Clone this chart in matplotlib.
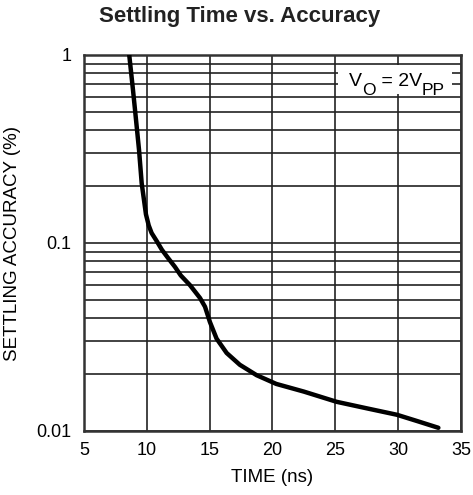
import matplotlib
matplotlib.use("Agg")
import matplotlib.pyplot as plt
from matplotlib.ticker import FixedLocator, NullFormatter
from matplotlib.patches import Rectangle

plt.rcParams['font.family'] = ['Liberation Sans', 'DejaVu Sans']

time_ns = [8.6, 8.9, 9.1, 9.38, 9.59, 9.93, 10.15, 10.38, 10.8, 11.2, 11.7, 12.24, 12.7,
           13.43, 14.23, 14.63, 15.02, 15.55, 16.35, 17.4, 18.74, 20.3, 22.5, 25.1, 27.5,
           29.9, 31.5, 33.2]
accuracy = [1.0, 0.65, 0.48, 0.312, 0.208, 0.142, 0.124, 0.113, 0.102, 0.092, 0.083, 0.0746,
            0.0672, 0.0597, 0.051, 0.0458, 0.038, 0.031, 0.026, 0.0225, 0.0198, 0.0178,
            0.0162, 0.0143, 0.0132, 0.0122, 0.0113, 0.0104]

x_ticks = [5, 10, 15, 20, 25, 30, 35]
y_ticks = [0.01, 0.1, 1]
y_ticklabels = ['0.01', '0.1', '1']

fig = plt.figure(figsize=(4.73, 4.95), dpi=100)
ax = fig.add_axes([0.1776, 0.1293, 0.7970, 0.7596])
ax.set_yscale('log')
ax.set_xlim(5, 35)
ax.set_ylim(0.01, 1)

minor = [m * 10.0 ** e for e in (-2, -1) for m in range(2, 10)]
ax.yaxis.set_minor_locator(FixedLocator(minor))
ax.yaxis.set_minor_formatter(NullFormatter())
ax.set_yticks(y_ticks)
ax.set_yticklabels(y_ticklabels)
ax.set_xticks(x_ticks)

ax.grid(True, which='both', color='#222222', linewidth=1.2)
ax.tick_params(which='both', length=0, labelsize=13, colors='black')
ax.tick_params(axis='y', pad=9)
ax.tick_params(axis='x', pad=8)

ax.plot(time_ns, accuracy, color='black', linewidth=3.2, solid_capstyle='round',
        solid_joinstyle='round', zorder=3)

for s in ax.spines.values():
    s.set_linewidth(1.8)
    s.set_color('#333333')

# white label box covering the grid
ax.add_patch(Rectangle((0.674, 0.896), 0.302, 0.077, transform=ax.transAxes,
                       facecolor='white', edgecolor='none', zorder=4))
t1 = ax.text(0.703, 0.9176, 'V', transform=ax.transAxes, fontsize=14,
             ha='left', va='baseline', zorder=5)
t2 = ax.annotate('O', xy=(1, 0), xycoords=t1, xytext=(0, -6), textcoords='offset points',
                 fontsize=12.5, ha='left', va='bottom', zorder=5)
t3 = ax.annotate(' = 2V', xy=(1, 0), xycoords=t2, xytext=(0, 6), textcoords='offset points',
                 fontsize=14, ha='left', va='bottom', zorder=5)
t4 = ax.annotate('PP', xy=(1, 0), xycoords=t3, xytext=(0, -6), textcoords='offset points',
                 fontsize=12.5, ha='left', va='bottom', zorder=5)

fig.text(0.576, 0.036, 'TIME (ns)', ha='center', va='center', fontsize=13.5)
fig.text(0.027, 0.509, 'SETTLING ACCURACY (%)', ha='center', va='center',
         rotation=90, fontsize=13.5)
fig.text(0.506, 0.967, 'Settling Time vs. Accuracy', ha='center', va='center',
         fontsize=16, fontweight='bold', color='#222222')

fig.savefig('out.png', dpi=100)
